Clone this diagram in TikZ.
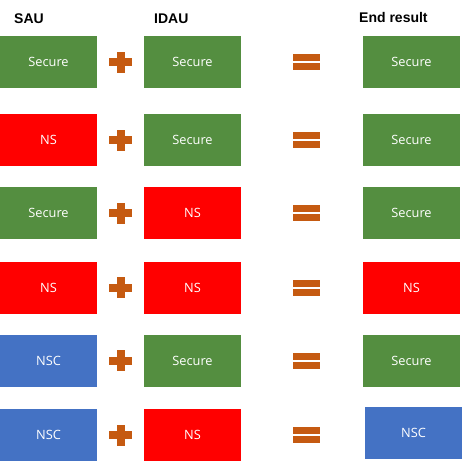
\documentclass[tikz,border=0pt]{standalone}
\usepackage{fontspec}
\setmainfont{Liberation Sans}
\newfontfamily\cellfont{Open Sans}
\usetikzlibrary{positioning}

\definecolor{secgreen}{RGB}{84,142,64}
\definecolor{nsred}{RGB}{255,0,0}
\definecolor{nscblue}{RGB}{68,114,196}
\definecolor{signorange}{RGB}{197,90,17}

\tikzset{
  cell/.style={minimum width=97pt, minimum height=52pt, inner sep=0pt,
    text=white, font=\cellfont\fontsize{12.8}{14}\selectfont},
  heading/.style={anchor=base west, inner sep=0pt,
    font=\bfseries\fontsize{14}{16}\selectfont}
}

\begin{document}
\begin{tikzpicture}[x=1pt, y=-1pt]
    \useasboundingbox (0,0) rectangle (464,461);

    % Column headings
    \node[heading] (sauhead) at (14,23) {SAU};
    \node[heading] (idauhead) at (154,23) {IDAU};
    \node[heading] (endhead) at (359,22) {End result};

    % Rows: y / SAU colour / text / IDAU colour / text
    \foreach \i/\y/\ca/\ta/\cb/\tb in {
        1/62/secgreen/Secure/secgreen/Secure,
        2/140/nsred/NS/secgreen/Secure,
        3/213/secgreen/Secure/nsred/NS,
        4/287.5/nsred/NS/nsred/NS,
        5/360.5/nscblue/NSC/secgreen/Secure,
        6/435/nscblue/NSC/nsred/NS} {
      \node[cell, fill=\ca] (sau\i) at (48.5,\y) {\ta};
      \node[cell, fill=\cb] (idau\i) at (192.5,\y) {\tb};
      % plus sign
      \fill[signorange] (109,\y-4) rectangle (132,\y+4);
      \fill[signorange] (116.5,\y-10.5) rectangle (124.5,\y+10.5);
      % equals sign
      \fill[signorange] (293,\y-8) rectangle (320,\y-1);
      \fill[signorange] (293,\y+1) rectangle (320,\y+8);
    }

    % End results
    \node[cell, fill=secgreen] (res1) at (411.5,62) {Secure};
    \node[cell, fill=secgreen] (res2) at (411.5,140) {Secure};
    \node[cell, fill=secgreen] (res3) at (411.5,213) {Secure};
    \node[cell, fill=nsred] (res4) at (411.5,287.5) {NS};
    \node[cell, fill=secgreen] (res5) at (411.5,360.5) {Secure};
    \node[cell, fill=nscblue] (res6) at (413.5,432.5) {NSC};
\end{tikzpicture}
\end{document}
